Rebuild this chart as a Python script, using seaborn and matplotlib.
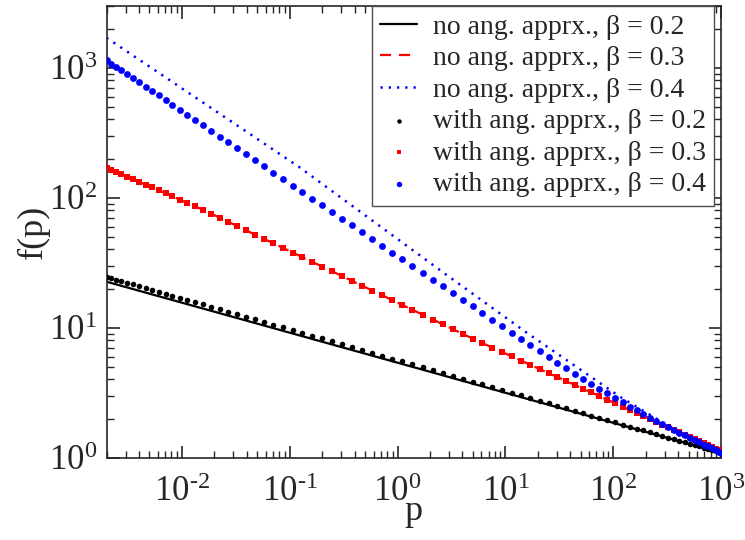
import matplotlib
matplotlib.use("Agg")
import matplotlib.pyplot as plt
import seaborn as sns
import pandas as pd
from matplotlib.ticker import LogLocator, NullFormatter, FixedFormatter

# ---------------- data ----------------
p_grid = [0.00200, 0.00221, 0.00246, 0.00275, 0.00311, 0.00354, 0.00402, 0.00460, 0.00527, 0.00607,
          0.00705, 0.00818, 0.00958, 0.0112, 0.0133, 0.0158, 0.0188, 0.0225, 0.0270, 0.0326,
          0.0392, 0.0475, 0.0579, 0.0707, 0.0864, 0.107, 0.131, 0.161, 0.200, 0.246,
          0.304, 0.377, 0.467, 0.581, 0.719, 0.896, 1.110, 1.374, 1.716, 2.124,
          2.630, 3.254, 4.029, 4.989, 6.124, 7.579, 9.324, 11.47, 13.99, 17.06,
          20.85, 25.27, 30.36, 36.79, 44.02, 52.56, 62.75, 74.40, 87.74, 103.4,
          122.1, 143.3, 165.3, 190.4, 219.6, 251.2, 285.6, 324.6, 366.7, 410.7,
          460.8, 512.8, 570.5, 629.2, 691.2, 757.6, 825.3, 893.1, 958.3, 1000.0]

f_ang_b02 = [24.66, 24.08, 23.48, 22.86, 22.20, 21.54, 20.89, 20.24, 19.59, 18.95,
             18.29, 17.65, 17.00, 16.38, 15.73, 15.11, 14.48, 13.88, 13.29, 12.72,
             12.17, 11.62, 11.09, 10.58, 10.08, 9.585, 9.131, 8.692, 8.262, 7.864,
             7.475, 7.106, 6.755, 6.412, 6.095, 5.785, 5.499, 5.226, 4.957, 4.712,
             4.479, 4.258, 4.048, 3.847, 3.665, 3.484, 3.317, 3.158, 3.012, 2.873,
             2.740, 2.618, 2.506, 2.394, 2.294, 2.200, 2.109, 2.025, 1.948, 1.873,
             1.800, 1.733, 1.675, 1.620, 1.566, 1.517, 1.471, 1.427, 1.387, 1.350,
             1.313, 1.280, 1.248, 1.220, 1.193, 1.167, 1.144, 1.123, 1.104, 1.093]

f_ang_b03 = [170.7, 164.7, 158.4, 152.0, 145.4, 138.8, 132.5, 126.2, 120.0, 114.0,
             108.0, 102.3, 96.6, 91.3, 85.8, 80.6, 75.2, 70.0, 65.1, 60.5,
             56.2, 52.1, 48.2, 44.6, 41.2, 37.8, 34.9, 32.1, 29.5, 27.2,
             25.0, 23.0, 21.1, 19.3, 17.8, 16.3, 14.96, 13.74, 12.58, 11.56,
             10.62, 9.75, 8.96, 8.23, 7.62, 7.03, 6.51, 6.02, 5.58, 5.18,
             4.81, 4.47, 4.17, 3.88, 3.63, 3.39, 3.18, 2.98, 2.80, 2.63,
             2.47, 2.33, 2.21, 2.09, 1.98, 1.89, 1.80, 1.71, 1.64, 1.57,
             1.50, 1.45, 1.39, 1.34, 1.29, 1.25, 1.21, 1.17, 1.14, 1.13]

f_ang_b04 = [1140, 1078, 1016, 953.9, 891.3, 829.9, 772.7, 717.0, 664.3, 614.1,
             564.9, 519.8, 476.0, 436.3, 396.8, 360.7, 326.8, 295.8, 267.0, 240.7,
             217.0, 195.0, 174.5, 156.2, 139.7, 124.0, 110.7, 98.6, 87.5, 78.0,
             69.2, 61.4, 54.6, 48.3, 42.9, 37.9, 33.7, 29.9, 26.4, 23.4,
             20.8, 18.5, 16.4, 14.6, 13.0, 11.5, 10.3, 9.15, 8.21, 7.37,
             6.61, 5.96, 5.39, 4.86, 4.44, 4.05, 3.70, 3.40, 3.12, 2.87,
             2.66, 2.47, 2.31, 2.16, 2.02, 1.91, 1.82, 1.72, 1.64, 1.56,
             1.49, 1.43, 1.37, 1.31, 1.26, 1.22, 1.18, 1.14, 1.11, 1.09]

# "no angular approximation" curves (lines)
p_noang_b02 = [0.002, 1.0, 1000.0]
f_noang_b02 = [22.6, 5.38, 1.09]
p_noang_b03 = [0.002, 0.01586, 0.3147, 4.989, 136.5, 1000.0]
f_noang_b03 = [170.7, 80.44, 24.68, 8.23, 2.369, 1.126]
p_noang_b04 = [0.002, 0.1224, 2.863, 15.33, 115.8, 316.2, 1000.0]
f_noang_b04 = [1700.0, 172.2, 25.4, 9.31, 2.94, 1.78, 1.10]

labels_line = ["no ang. apprx., β = 0.2", "no ang. apprx., β = 0.3", "no ang. apprx., β = 0.4"]
labels_pts = ["with ang. apprx., β = 0.2", "with ang. apprx., β = 0.3", "with ang. apprx., β = 0.4"]
x_ticks = [1e-2, 1e-1, 1e0, 1e1, 1e2, 1e3]
x_exps = ["-2", "-1", "0", "1", "2", "3"]
y_ticks = [1e0, 1e1, 1e2, 1e3]
y_exps = ["0", "1", "2", "3"]

# ---------------- style ----------------
sns.set_style("ticks")
plt.rcParams["font.family"] = ["Liberation Serif", "DejaVu Serif"]
plt.rcParams["mathtext.fontset"] = "custom"
plt.rcParams["mathtext.rm"] = "Liberation Serif"
plt.rcParams["mathtext.it"] = "Liberation Serif:italic"
plt.rcParams["axes.unicode_minus"] = False

fig = plt.figure(figsize=(7.45, 5.4), dpi=100)
ax = fig.add_axes([0.143, 0.1524, 0.8248, 0.8370])

df_pts = pd.DataFrame({"p": p_grid, "b02": f_ang_b02, "b03": f_ang_b03, "b04": f_ang_b04})

sns.lineplot(x=p_noang_b02, y=f_noang_b02, ax=ax, color="black", linewidth=1.6,
             sort=False, estimator=None, label=labels_line[0])
sns.lineplot(x=p_noang_b03, y=f_noang_b03, ax=ax, color="red", linewidth=1.6,
             linestyle=(0, (5, 3.5)), sort=False, estimator=None, label=labels_line[1])
sns.lineplot(x=p_noang_b04, y=f_noang_b04, ax=ax, color="blue", linewidth=1.8,
             linestyle=(0, (0.9, 2.4)), sort=False, estimator=None, label=labels_line[2])

sns.scatterplot(data=df_pts, x="p", y="b02", ax=ax, color="black", marker="o", s=16,
                linewidth=0, label=labels_pts[0], zorder=3)
sns.scatterplot(data=df_pts, x="p", y="b03", ax=ax, color="red", marker="s", s=14,
                linewidth=0, label=labels_pts[1], zorder=3)
sns.scatterplot(data=df_pts, x="p", y="b04", ax=ax, color="blue", marker="o", s=24,
                linewidth=0, label=labels_pts[2], zorder=3)

ax.set_xscale("log")
ax.set_yscale("log")
ax.set_xlim(0.002, 1000)
ax.set_ylim(1, 3000)
ax.set_xticks(x_ticks)
ax.set_yticks(y_ticks)
ax.xaxis.set_major_formatter(FixedFormatter([r"$\mathregular{10^{\text{%s}}}$" % e for e in x_exps]))
ax.yaxis.set_major_formatter(FixedFormatter([r"$\mathregular{10^{\text{%s}}}$" % e for e in y_exps]))
ax.xaxis.set_minor_locator(LogLocator(base=10, subs=range(2, 10), numticks=20))
ax.yaxis.set_minor_locator(LogLocator(base=10, subs=range(2, 10), numticks=20))
ax.xaxis.set_minor_formatter(NullFormatter())
ax.yaxis.set_minor_formatter(NullFormatter())

ax.tick_params(which="both", direction="in", top=True, right=True, labelsize=25)
ax.tick_params(axis="y", pad=7)
ax.tick_params(axis="x", pad=13)
ax.tick_params(which="major", length=9, width=1.2)
ax.tick_params(which="minor", length=5, width=1.0)
for sp in ax.spines.values():
    sp.set_linewidth(1.2)

ax.set_xlabel("p", fontsize=26)
ax.set_ylabel("f(p)", fontsize=26)
ax.xaxis.set_label_coords(0.5, -0.082)
ax.yaxis.set_label_coords(-0.092, 0.5)

leg = ax.legend(loc="upper right", bbox_to_anchor=(0.9886, 1.0), borderaxespad=0,
                fontsize=20, frameon=True, fancybox=False, edgecolor="0.3",
                framealpha=1, handlelength=1.35, handletextpad=0.55,
                labelspacing=0.22, borderpad=0.3, markerscale=0.8)
leg.get_frame().set_linewidth(1.0)

fig.savefig("out.png", dpi=100)
